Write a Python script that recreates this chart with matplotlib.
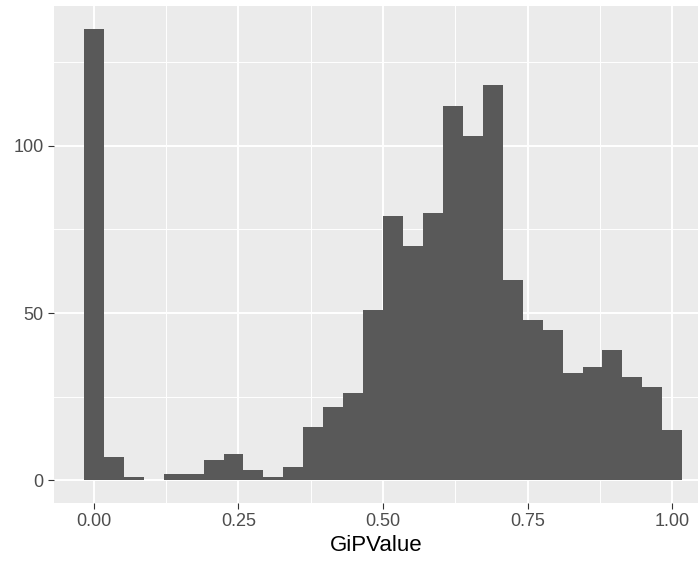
import numpy as np
import matplotlib
matplotlib.use("Agg")
import matplotlib.pyplot as plt
from matplotlib.ticker import MultipleLocator

# histogram of GiPValue, 30 bins (width 1/29, centred on 0 .. 1)
bin_centers = np.arange(30) / 29
counts = [135, 7, 1, 0, 2, 2, 6, 8, 3, 1,
          4, 16, 22, 26, 51, 79, 70, 80, 112, 103,
          118, 60, 48, 45, 32, 34, 39, 31, 28, 15]
x_ticks = [0.00, 0.25, 0.50, 0.75, 1.00]
y_ticks = [0, 50, 100]

PANEL = "#EBEBEB"
BAR = "#595959"
TXT = "#4D4D4D"

plt.rcParams["font.family"] = ["Liberation Sans", "DejaVu Sans"]

W, H = 698, 565
fig = plt.figure(figsize=(W / 100, H / 100), dpi=100)
ax = fig.add_axes([54 / W, (H - 503) / H, (W - 54) / W, (503 - 6) / H])
ax.set_facecolor(PANEL)

width = 1 / 29
ax.bar(bin_centers, counts, width=width, color=BAR, edgecolor="none",
       linewidth=0, zorder=3)

ax.set_xlim(-0.069, 1.0445)
ax.set_ylim(-6.75, 141.75)

ax.set_xticks(x_ticks)
ax.set_xticklabels([f"{v:.2f}" for v in x_ticks])
ax.set_yticks(y_ticks)
ax.xaxis.set_minor_locator(MultipleLocator(0.125))
ax.yaxis.set_minor_locator(MultipleLocator(25))

ax.grid(which="major", color="white", linewidth=1.4, zorder=0)
ax.grid(which="minor", color="white", linewidth=0.7, zorder=0)
ax.set_axisbelow(True)

for s in ax.spines.values():
    s.set_visible(False)

ax.tick_params(which="major", length=4.5, width=0.8, color="#333333",
               labelcolor=TXT, labelsize=13, pad=3)
ax.tick_params(which="minor", length=0)

ax.set_xlabel("GiPValue", fontsize=16, color="black", labelpad=3)

fig.savefig("out.png", dpi=100)
